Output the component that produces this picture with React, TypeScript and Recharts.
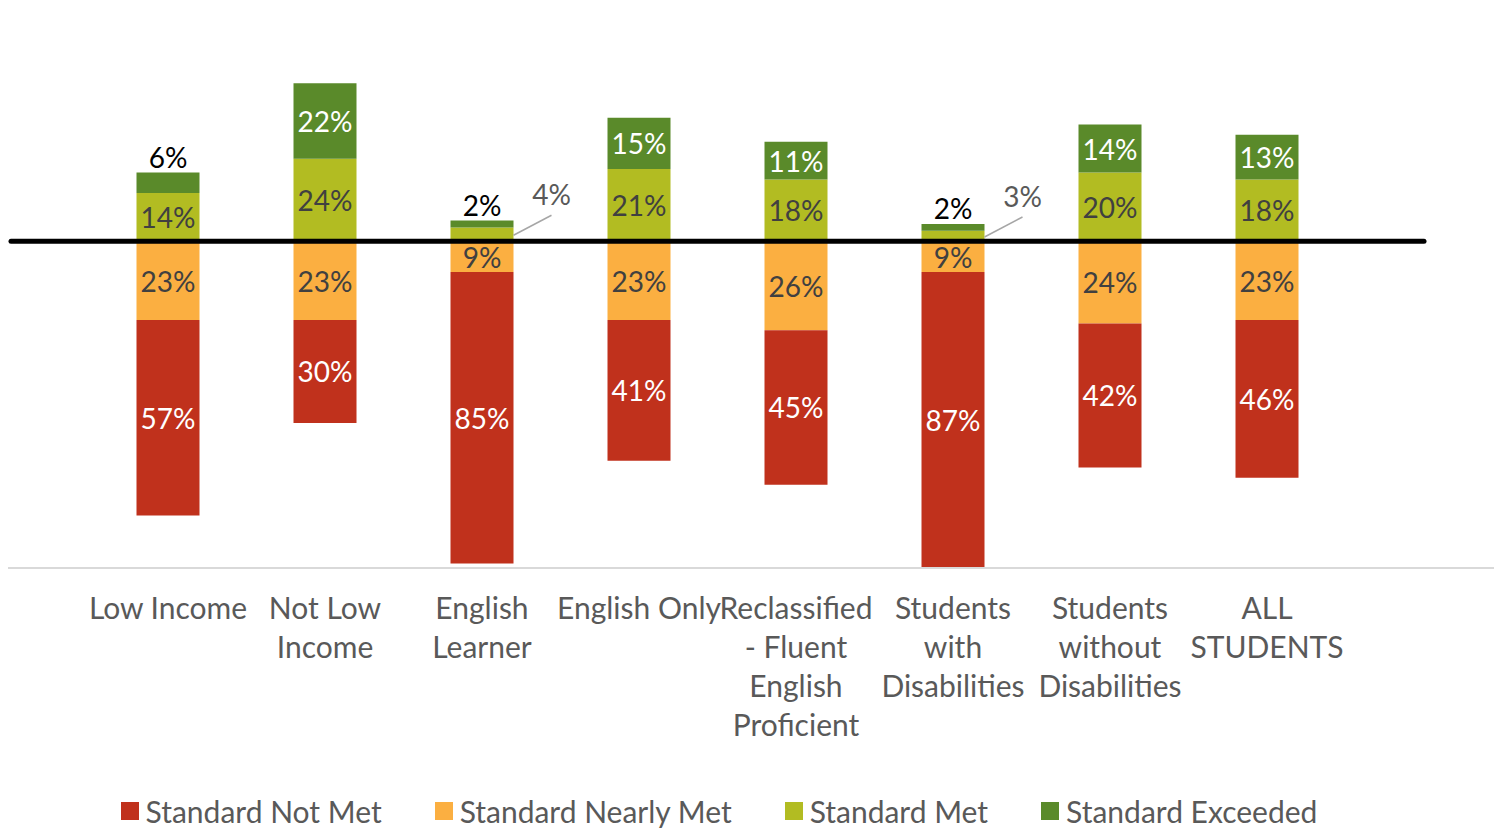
import { BarChart, Bar, XAxis, YAxis, ReferenceLine, LabelList, Legend } from 'recharts';

const categories = [
  'Low Income',
  'Not Low Income',
  'English Learner',
  'English Only',
  'Reclassified - Fluent English Proficient',
  'Students with Disabilities',
  'Students without Disabilities',
  'ALL STUDENTS',
];

// wrapped the way the original axis wraps them
const tickLines = [
  ['Low Income'],
  ['Not Low', 'Income'],
  ['English', 'Learner'],
  ['English Only'],
  ['Reclassified', '- Fluent', 'English', 'Proficient'],
  ['Students', 'with', 'Disabilities'],
  ['Students', 'without', 'Disabilities'],
  ['ALL', 'STUDENTS'],
];

const notMet = [57, 30, 85, 41, 45, 87, 42, 46];
const nearlyMet = [23, 23, 9, 23, 26, 9, 24, 23];
const met = [14, 24, 4, 21, 18, 3, 20, 18];
const exceeded = [6, 22, 2, 15, 11, 2, 14, 13];

const series = [
  { key: 'notMet', name: 'Standard Not Met', color: '#C0311C' },
  { key: 'nearlyMet', name: 'Standard Nearly Met', color: '#FBAF41' },
  { key: 'met', name: 'Standard Met', color: '#B2BC22' },
  { key: 'exceeded', name: 'Standard Exceeded', color: '#5A8A2A' },
];

const W = 1502;
const H = 836;
const PAD_L = 89.5;
const PAD_R = 156.5;
const BAND = (W - PAD_L - PAD_R) / categories.length;
const Y_MIN = -95.3;
const Y_MAX = 70.3;
const FONT = 'Lato, "Open Sans", sans-serif';

const chartData = categories.map((name, i) => ({
  name,
  notMet: -notMet[i],
  nearlyMet: -nearlyMet[i],
  met: met[i],
  exceeded: exceeded[i],
}));

function CategoryTick({ x, y, payload }: any) {
  const lines = tickLines[payload.index] ?? [String(payload.value)];
  return (
    <text x={x} y={y + 43} textAnchor="middle" fill="#595959" fontSize={30} fontFamily={FONT}>
      {lines.map((l, i) => (
        <tspan key={i} x={x} dy={i === 0 ? 0 : 39}>{l}</tspan>
      ))}
    </text>
  );
}

function makeLabel(key: string) {
  return function SegLabel(props: any) {
    const { x, y, width, height, value } = props;
    const v = Math.abs(Number(value));
    const top = Math.min(y, y + height);
    const mid = y + height / 2;
    const cx = x + width / 2;
    const common = { fontSize: 28, fontFamily: FONT, textAnchor: 'middle' as const };

    if (key === 'exceeded' && v < 8) {
      return <text x={cx} y={top - 5} fill="#000" {...common}>{v}%</text>;
    }
    if (key === 'met' && v < 5) {
      const x0 = x + width;
      return (
        <g>
          <line x1={x0} y1={mid + 1} x2={x0 + 38} y2={mid - 19} stroke="#A6A6A6" strokeWidth={1.5} />
          <text x={x0 + 38} y={mid - 29} fill="#595959" {...common}>{v}%</text>
        </g>
      );
    }
    const fill = key === 'notMet' || key === 'exceeded' ? '#FFFFFF' : '#404040';
    return <text x={cx} y={mid + 11} fill={fill} {...common}>{v}%</text>;
  };
}

// zero line runs from one band before the first bar to one band after the last
function ZeroLine(props: any) {
  const { x1, y1 } = props;
  const start = x1 + PAD_L + BAND / 2 - BAND;
  const end = x1 + PAD_L + BAND / 2 + categories.length * BAND;
  return <line x1={start} x2={end} y1={y1} y2={y1} stroke="#000" strokeWidth={5} strokeLinecap="round" />;
}

// plot floor line spans the whole chart width (and a bit past it)
function FloorLine(props: any) {
  const { y1 } = props;
  return <line x1={-20} x2={W + 20} y1={y1} y2={y1} stroke="#D9D9D9" strokeWidth={2} />;
}

function LegendContent() {
  return (
    <div
      style={{
        display: 'flex',
        justifyContent: 'center',
        alignItems: 'center',
        gap: 53,
        paddingRight: 64,
        marginTop: -3,
        fontFamily: FONT,
        fontSize: 30,
        color: '#595959',
      }}
    >
      {series.map((s) => (
        <div key={s.key} style={{ display: 'flex', alignItems: 'center', gap: 7 }}>
          <span style={{ width: 18, height: 18, background: s.color, display: 'inline-block' }} />
          <span>{s.name}</span>
        </div>
      ))}
    </div>
  );
}

export default function App() {
  // stacking with sign offset: first negative series sits next to zero
  const stackOrder = ['nearlyMet', 'notMet', 'met', 'exceeded'];
  return (
    <div style={{ margin: -8, width: W, height: H, background: '#fff' }}>
      <BarChart
        width={W}
        height={H}
        data={chartData}
        stackOffset="sign"
        margin={{ top: 0, right: 0, bottom: 0, left: 0 }}
        barSize={63}
        style={{ overflow: 'visible' }}
      >
        <XAxis
          dataKey="name"
          interval={0}
          padding={{ left: PAD_L, right: PAD_R }}
          tickLine={false}
          axisLine={false}
          tick={<CategoryTick />}
          height={228}
        />
        <YAxis hide width={0} domain={[Y_MIN, Y_MAX]} allowDataOverflow />
        <Legend verticalAlign="bottom" height={40} content={<LegendContent />} />
        {stackOrder.map((k) => {
          const s = series.find((d) => d.key === k)!;
          return (
            <Bar key={k} dataKey={k} name={s.name} stackId="a" fill={s.color} isAnimationActive={false}>
              <LabelList dataKey={k} content={makeLabel(k)} />
            </Bar>
          );
        })}
        <ReferenceLine y={Y_MIN} shape={FloorLine} ifOverflow="visible" />
        <ReferenceLine y={0} shape={ZeroLine} />
      </BarChart>
    </div>
  );
}
